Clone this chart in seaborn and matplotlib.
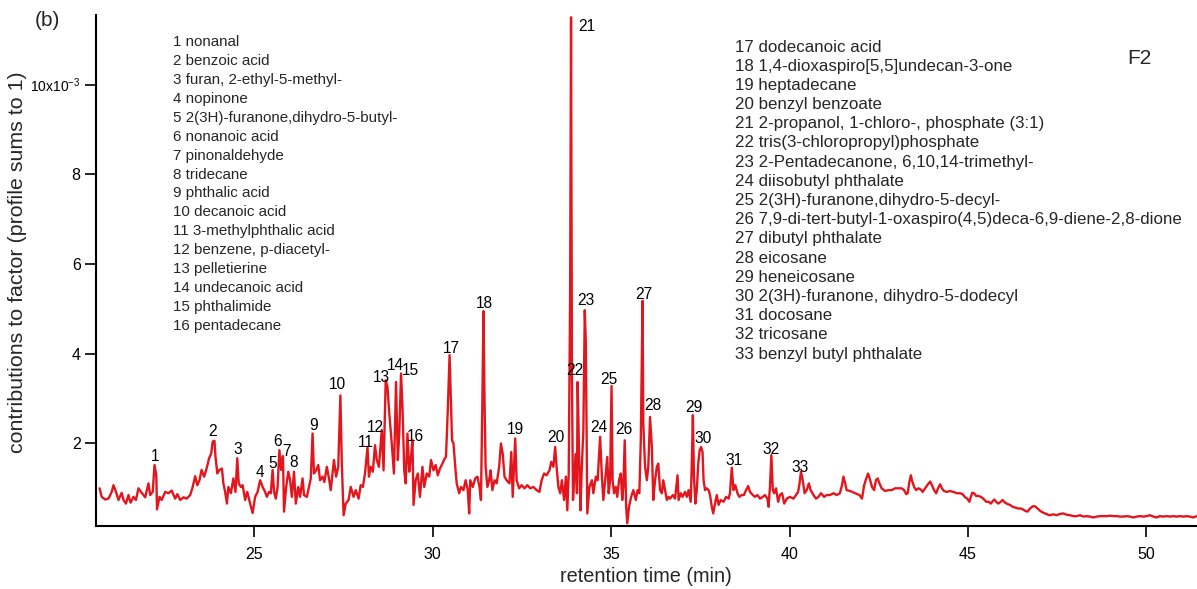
import matplotlib
matplotlib.use("Agg")
import matplotlib.pyplot as plt
import seaborn as sns
import pandas as pd

# ---------------- data (retention time [min], contribution [x1e-3]) ----------------
trace_a = [(20.66, 1.00), (20.72, 0.81), (20.82, 0.75), (20.91, 0.77), (21.00, 0.92), (21.05, 1.07),
           (21.12, 0.92), (21.19, 0.74), (21.28, 0.90), (21.33, 0.74), (21.40, 0.66), (21.47, 0.85),
           (21.53, 0.68), (21.61, 0.81), (21.68, 0.74), (21.75, 1.00), (21.84, 0.90), (21.94, 0.80),
           (22.03, 1.11), (22.08, 0.85), (22.15, 0.92), (22.20, 1.52), (22.25, 1.29), (22.27, 0.53),
           (22.34, 0.81), (22.40, 0.74), (22.50, 0.92), (22.59, 0.89), (22.68, 0.95), (22.78, 0.77),
           (22.84, 0.87), (22.92, 0.74), (23.01, 0.80), (23.10, 0.77), (23.20, 0.85), (23.27, 1.03),
           (23.34, 1.27), (23.40, 1.07), (23.46, 1.18), (23.52, 1.41), (23.59, 1.26), (23.66, 1.44),
           (23.73, 1.67), (23.79, 1.78), (23.83, 2.04), (23.88, 2.06), (23.91, 1.70), (23.96, 1.33),
           (24.02, 1.41), (24.09, 1.44), (24.13, 1.11), (24.18, 0.92), (24.23, 0.66), (24.27, 1.03),
           (24.34, 0.89), (24.41, 1.22), (24.47, 0.92), (24.52, 1.67), (24.56, 1.11), (24.62, 1.03),
           (24.67, 1.07), (24.74, 0.74), (24.80, 0.92), (24.88, 0.66), (24.95, 0.45), (25.02, 0.81),
           (25.09, 0.92), (25.16, 1.18), (25.23, 1.03), (25.30, 0.92), (25.35, 0.81), (25.41, 0.92),
           (25.46, 0.89), (25.51, 1.41), (25.55, 0.92), (25.60, 0.77), (25.65, 1.03), (25.70, 1.85),
           (25.75, 1.41), (25.80, 1.72)]

trace_b = [(25.83, 0.48), (25.89, 1.03), (25.95, 1.37), (26.00, 1.18), (26.05, 0.81), (26.11, 1.37),
           (26.16, 0.66), (26.23, 1.03), (26.28, 0.81), (26.35, 1.22), (26.39, 0.85), (26.47, 0.81),
           (26.53, 1.03), (26.58, 1.22), (26.63, 2.22), (26.67, 1.33), (26.73, 1.40), (26.79, 1.52),
           (26.84, 1.18), (26.91, 1.26), (26.96, 1.14), (27.03, 1.48), (27.09, 1.22), (27.14, 0.96),
           (27.20, 1.40), (27.23, 1.63), (27.29, 1.26), (27.35, 1.48), (27.41, 3.07), (27.45, 1.55),
           (27.50, 0.40), (27.56, 0.66), (27.64, 0.74), (27.70, 1.03), (27.78, 0.81), (27.84, 0.96),
           (27.92, 0.77), (27.98, 1.07), (28.04, 1.03), (28.10, 1.33), (28.17, 1.92), (28.21, 1.26),
           (28.26, 1.48), (28.32, 1.37), (28.38, 1.96), (28.43, 1.63), (28.49, 1.48), (28.57, 2.30),
           (28.62, 1.40), (28.68, 3.41), (28.73, 3.26), (28.78, 2.67), (28.85, 2.00), (28.91, 1.33),
           (28.97, 3.37), (29.02, 1.63), (29.06, 2.22), (29.11, 3.56), (29.15, 2.82), (29.20, 1.40),
           (29.24, 1.11), (29.29, 2.22), (29.34, 1.37), (29.38, 1.63), (29.43, 2.07), (29.46, 0.63),
           (29.52, 1.18), (29.58, 1.33), (29.64, 0.81), (29.71, 1.48), (29.76, 1.03), (29.83, 1.33),
           (29.90, 1.26), (29.95, 1.63), (30.02, 1.40), (30.08, 1.52), (30.14, 1.29), (30.20, 1.44),
           (30.27, 1.55), (30.33, 1.66), (30.37, 1.70), (30.42, 2.74), (30.47, 3.97), (30.50, 3.19),
           (30.54, 2.07), (30.58, 2.00), (30.63, 1.48), (30.67, 1.11), (30.74, 0.89), (30.79, 1.03),
           (30.86, 0.96), (30.92, 1.18), (30.98, 0.96), (31.02, 0.44)]

trace_c = [(31.05, 1.18), (31.12, 1.03), (31.19, 1.22), (31.25, 1.26), (31.31, 1.03), (31.35, 0.74),
           (31.39, 2.96), (31.42, 4.95), (31.45, 2.96), (31.48, 1.48), (31.53, 1.03), (31.58, 1.18),
           (31.62, 1.40), (31.67, 0.96), (31.73, 1.18), (31.79, 1.11), (31.86, 1.48), (31.91, 2.00),
           (31.96, 1.77), (32.01, 1.26), (32.07, 1.18), (32.15, 1.11), (32.20, 1.81), (32.24, 0.81),
           (32.31, 2.11), (32.35, 1.18), (32.42, 1.00), (32.49, 1.07), (32.57, 1.00), (32.65, 1.07),
           (32.73, 1.00), (32.82, 1.03), (32.91, 0.96), (32.99, 0.92), (33.05, 1.18), (33.12, 1.33),
           (33.19, 1.29), (33.27, 1.40), (33.32, 1.59), (33.38, 1.48), (33.43, 1.92), (33.47, 1.48),
           (33.52, 1.03), (33.57, 0.89), (33.62, 1.18), (33.68, 0.74), (33.73, 1.26), (33.77, 0.51),
           (33.81, 1.33), (33.85, 5.40), (33.875, 11.50), (33.90, 3.56), (33.93, 0.74), (33.97, 1.33),
           (34.01, 1.77), (34.04, 0.89), (34.06, 3.37), (34.10, 1.77), (34.14, 0.51), (34.17, 1.33),
           (34.22, 2.30), (34.26, 4.97), (34.29, 4.23), (34.33, 0.44), (34.39, 1.03), (34.46, 1.18),
           (34.50, 0.89), (34.57, 1.26), (34.62, 1.18), (34.69, 2.15), (34.74, 1.26), (34.78, 0.74),
           (34.83, 1.18), (34.89, 1.70), (34.93, 0.89), (34.97, 1.18), (35.01, 3.28), (35.04, 1.18),
           (35.08, 0.89), (35.13, 1.03), (35.17, 0.81), (35.22, 1.18), (35.27, 1.33), (35.31, 0.74),
           (35.34, 1.03), (35.38, 2.07), (35.42, 0.59), (35.45, 0.22), (35.50, 0.59), (35.56, 0.81),
           (35.62, 0.96), (35.69, 0.74), (35.74, 0.96), (35.79, 0.89), (35.83, 2.07), (35.88, 5.18),
           (35.90, 2.45), (35.95, 1.48), (36.00, 1.18), (36.04, 1.48), (36.09, 2.59), (36.14, 1.92),
           (36.18, 0.74), (36.23, 1.18), (36.28, 1.48), (36.32, 1.55), (36.37, 0.96), (36.42, 0.89),
           (36.46, 1.18), (36.51, 0.96), (36.56, 0.74), (36.61, 0.81)]

trace_d = [(36.65, 0.77), (36.73, 0.85), (36.79, 0.77), (36.86, 1.29), (36.89, 0.74), (36.95, 0.89),
           (37.00, 0.81), (37.07, 0.92), (37.12, 0.81), (37.17, 0.96), (37.23, 0.70), (37.26, 1.55),
           (37.29, 2.63), (37.32, 1.26), (37.36, 0.66), (37.40, 0.96), (37.44, 1.55), (37.48, 1.85),
           (37.52, 1.92), (37.56, 1.81), (37.59, 1.18), (37.63, 0.96), (37.68, 1.00), (37.73, 0.96),
           (37.77, 0.85), (37.82, 0.59), (37.86, 0.44), (37.91, 0.66), (37.96, 0.85), (38.01, 0.63),
           (38.07, 0.74), (38.15, 0.70), (38.22, 0.81), (38.29, 0.77), (38.33, 0.89), (38.38, 1.46),
           (38.43, 0.96), (38.48, 1.07), (38.54, 0.89), (38.59, 0.81), (38.66, 0.85), (38.72, 0.85),
           (38.78, 0.96), (38.84, 1.05), (38.89, 0.92), (38.97, 0.85), (39.03, 0.81), (39.10, 0.85),
           (39.17, 0.77), (39.25, 0.81), (39.31, 0.85), (39.38, 0.77), (39.41, 0.59), (39.45, 1.03),
           (39.49, 1.74), (39.53, 0.96), (39.57, 0.89), (39.62, 1.00), (39.68, 0.70), (39.73, 0.85),
           (39.79, 0.89), (39.85, 0.66), (39.92, 0.77), (40.01, 0.81), (40.11, 0.77), (40.18, 0.85),
           (40.24, 0.92), (40.28, 1.11), (40.32, 1.37), (40.37, 1.18), (40.42, 0.89), (40.48, 0.96),
           (40.54, 1.11), (40.59, 0.96), (40.67, 0.85), (40.74, 0.77), (40.81, 0.81), (40.88, 0.89),
           (40.97, 0.81), (41.04, 0.85), (41.13, 0.85), (41.23, 0.89), (41.32, 0.85), (41.41, 0.89),
           (41.47, 1.07), (41.51, 1.26), (41.56, 1.11), (41.60, 0.96)]

trace_e = [(41.70, 0.94), (41.84, 0.89), (41.96, 0.85), (42.03, 0.77), (42.09, 1.07), (42.15, 1.22),
           (42.20, 1.33), (42.26, 1.18), (42.31, 1.03), (42.37, 0.96), (42.42, 1.18), (42.47, 1.22),
           (42.52, 1.11), (42.58, 1.00), (42.68, 0.94), (42.77, 0.96), (42.86, 0.96), (42.96, 1.00),
           (43.05, 1.00), (43.14, 1.00), (43.21, 0.96), (43.27, 0.87), (43.31, 0.89), (43.36, 1.15),
           (43.40, 1.29), (43.43, 1.18), (43.49, 1.03), (43.55, 0.96), (43.61, 1.00), (43.68, 0.97),
           (43.73, 0.92), (43.80, 1.00), (43.86, 1.07), (43.94, 1.15), (43.99, 1.07), (44.05, 0.96),
           (44.11, 0.89), (44.16, 1.00), (44.22, 1.09), (44.27, 1.00), (44.33, 0.94), (44.41, 0.92),
           (44.50, 0.94), (44.59, 0.92), (44.69, 0.89), (44.78, 0.89), (44.85, 0.87), (44.92, 0.80),
           (44.98, 0.77), (45.04, 0.70), (45.08, 0.81), (45.12, 0.90), (45.17, 0.89), (45.23, 0.83),
           (45.29, 0.83), (45.36, 0.81), (45.43, 0.77), (45.51, 0.70), (45.58, 0.70), (45.64, 0.66),
           (45.70, 0.72), (45.74, 0.75), (45.79, 0.70), (45.85, 0.66), (45.92, 0.70), (45.97, 0.74),
           (46.04, 0.68), (46.11, 0.65), (46.18, 0.63), (46.25, 0.59), (46.33, 0.57), (46.41, 0.55),
           (46.48, 0.55), (46.54, 0.53), (46.60, 0.50), (46.67, 0.48), (46.74, 0.55), (46.82, 0.60),
           (46.88, 0.60), (46.95, 0.55), (47.02, 0.50), (47.10, 0.46), (47.19, 0.43), (47.28, 0.40),
           (47.39, 0.42), (47.49, 0.40), (47.58, 0.43), (47.67, 0.44), (47.77, 0.41), (47.86, 0.40),
           (47.96, 0.38), (48.05, 0.38), (48.14, 0.40), (48.24, 0.37), (48.33, 0.38), (48.42, 0.37),
           (48.52, 0.35), (48.61, 0.37), (48.70, 0.38), (48.80, 0.38), (48.89, 0.38), (48.98, 0.39),
           (49.08, 0.38), (49.17, 0.38), (49.26, 0.37), (49.36, 0.37), (49.45, 0.38), (49.54, 0.37),
           (49.64, 0.35), (49.73, 0.37), (49.82, 0.38), (49.92, 0.37), (50.01, 0.38), (50.10, 0.40),
           (50.20, 0.37), (50.29, 0.35), (50.38, 0.38), (50.48, 0.37), (50.57, 0.38), (50.66, 0.37),
           (50.76, 0.38), (50.85, 0.37), (50.94, 0.38), (51.04, 0.37), (51.13, 0.38), (51.22, 0.37),
           (51.32, 0.35), (51.41, 0.38)]

# peak number labels (label anchor: retention time, contribution)
peak_labels = ["1", "2", "3", "4", "5", "6", "7", "8", "9", "10", "11", "12", "13", "14", "15", "16", "17",
               "18", "19", "20", "21", "22", "23", "24", "25", "26", "27", "28", "29", "30", "31", "32", "33"]
label_rt = [22.22, 23.84, 24.54, 25.16, 25.50, 25.66, 25.89, 26.11, 26.65, 27.32, 28.13, 28.38, 28.56,
            28.96, 29.37, 29.50, 30.51, 31.44, 32.31, 33.46, 34.32, 33.99, 34.30, 34.66, 34.94, 35.36,
            35.92, 36.17, 37.32, 37.58, 38.44, 39.48, 40.29]
label_val = [1.72, 2.27, 1.87, 1.36, 1.56, 2.05, 1.81, 1.58, 2.41, 3.32, 2.03, 2.36, 3.48, 3.74, 3.63,
             2.16, 4.12, 5.12, 2.30, 2.14, 11.29, 3.63, 5.19, 2.36, 3.43, 2.32, 5.33, 2.85, 2.81, 2.12,
             1.61, 1.87, 1.47]

compounds_left = ["1 nonanal", "2 benzoic acid", "3 furan, 2-ethyl-5-methyl-", "4 nopinone",
                  "5 2(3H)-furanone,dihydro-5-butyl-", "6 nonanoic acid", "7 pinonaldehyde", "8 tridecane",
                  "9 phthalic acid", "10 decanoic acid", "11 3-methylphthalic acid", "12 benzene, p-diacetyl-",
                  "13 pelletierine", "14 undecanoic acid", "15 phthalimide", "16 pentadecane"]
compounds_right = ["17 dodecanoic acid", "18 1,4-dioxaspiro[5,5]undecan-3-one", "19 heptadecane",
                   "20 benzyl benzoate", "21 2-propanol, 1-chloro-, phosphate (3:1)",
                   "22 tris(3-chloropropyl)phosphate", "23 2-Pentadecanone, 6,10,14-trimethyl-",
                   "24 diisobutyl phthalate", "25 2(3H)-furanone,dihydro-5-decyl-",
                   "26 7,9-di-tert-butyl-1-oxaspiro(4,5)deca-6,9-diene-2,8-dione", "27 dibutyl phthalate",
                   "28 eicosane", "29 heneicosane", "30 2(3H)-furanone, dihydro-5-dodecyl", "31 docosane",
                   "32 tricosane", "33 benzyl butyl phthalate"]

y_ticks = [2, 4, 6, 8, 10]
y_ticklabels = ["2", "4", "6", "8", "10x10$^{-3}$"]
x_ticks = [25, 30, 35, 40, 45, 50]

# ---------------- figure ----------------
sns.set_style("white")
plt.rcParams["font.family"] = ["Liberation Sans", "DejaVu Sans"]
plt.rcParams["mathtext.default"] = "regular"

W, H = 1197, 589
fig = plt.figure(figsize=(W / 100, H / 100), dpi=100)
ax = fig.add_axes([96 / W, 1 - 526 / H, (1197 - 96) / W, (526 - 15) / H])

rows = trace_a + trace_b + trace_c + trace_d + trace_e
df = pd.DataFrame(rows, columns=["rt", "signal"])
sns.lineplot(data=df, x="rt", y="signal", ax=ax, color="#e3161e", linewidth=1.7,
             estimator=None, sort=False)

ax.set_xlim(20.56, 51.42)
ax.set_ylim(0.16, 11.55)
ax.set_xticks(x_ticks)
ax.set_xticklabels([str(t) for t in x_ticks], fontsize=11.5)
ax.set_yticks(y_ticks)
ax.set_yticklabels(y_ticklabels, fontsize=11.5)
ax.get_yticklabels()[-1].set_fontsize(10)
ax.set_xlabel("")
ax.set_ylabel("")

for s in ["top", "right"]:
    ax.spines[s].set_visible(False)
for s in ["left", "bottom"]:
    ax.spines[s].set_linewidth(1.5)
    ax.spines[s].set_color("black")
ax.tick_params(axis="both", direction="out", length=8, width=1.2, colors="black", bottom=True, left=True)
ax.tick_params(axis="x", pad=7)
ax.tick_params(axis="y", pad=3)

for lab, tx, ty in zip(peak_labels, label_rt, label_val):
    ax.text(tx, ty, lab, ha="center", va="center", fontsize=11.2, color="black")

for i, name in enumerate(compounds_left):
    fig.text(173 / W, 1 - (42 + i * 18.93) / H, name, ha="left", va="center", fontsize=10.9)
for i, name in enumerate(compounds_right):
    fig.text(735 / W, 1 - (47 + i * 19.19) / H, name, ha="left", va="center", fontsize=12.2)

fig.text(1139 / W, 1 - 58 / H, "F2", ha="center", va="center", fontsize=15)
fig.text(47 / W, 1 - 20 / H, "(b)", ha="center", va="center", fontsize=15)
fig.text(646 / W, 1 - 577 / H, "retention time (min)", ha="center", va="center", fontsize=14.3)
fig.text(18 / W, 1 - 262 / H, "contributions to factor (profile sums to 1)", ha="center", va="center",
         rotation=90, fontsize=15.4)

fig.savefig("out.png", dpi=100)
